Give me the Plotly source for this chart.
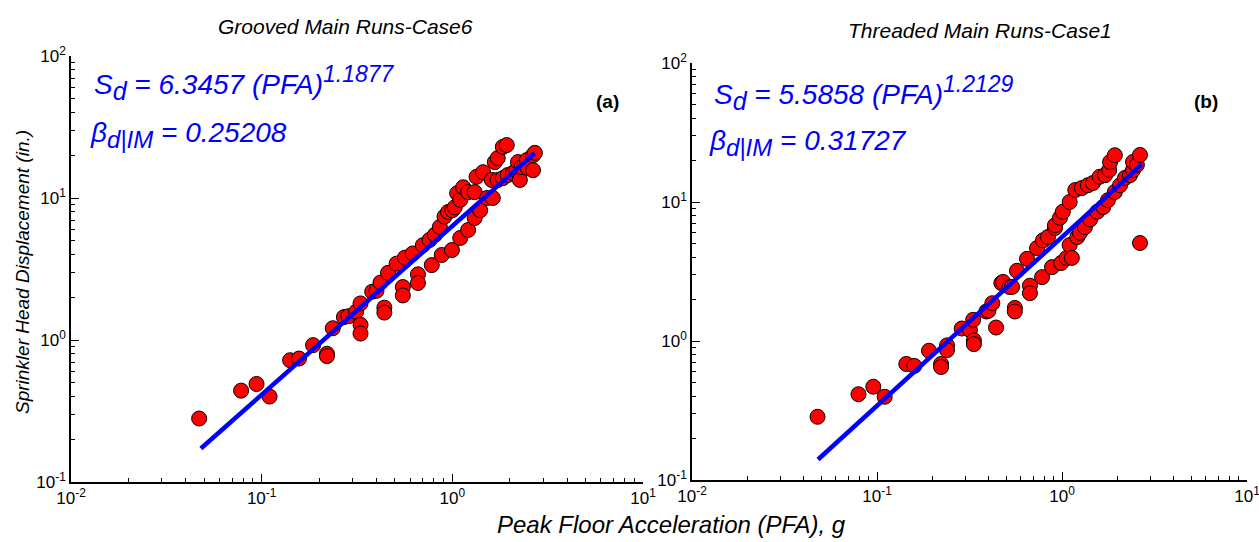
import numpy as np
import plotly.graph_objects as go

# Peak floor acceleration (g) and sprinkler head displacement (in.) — grooved main, case 6
pfa_a = [0.047, 0.078, 0.094, 0.110, 0.141, 0.157, 0.186, 0.22, 0.22, 0.236, 0.27, 0.285,
         0.313, 0.33, 0.33, 0.33, 0.38, 0.40, 0.42, 0.44, 0.44, 0.46, 0.51, 0.55, 0.55,
         0.564, 0.62, 0.66, 0.66, 0.70, 0.76, 0.78, 0.81, 0.86, 0.88, 0.91, 0.95, 1.0,
         0.995, 1.03, 1.06, 1.10, 1.10, 1.14, 1.21, 1.21, 1.31, 1.31, 1.34, 1.40, 1.45,
         1.52, 1.61, 1.63, 1.67, 1.73, 1.73, 1.84, 1.84, 1.93, 1.95, 2.08, 2.17, 2.21,
         2.26, 2.31, 2.46, 2.49, 2.65, 2.65, 2.71]
disp_a = [0.28, 0.44, 0.49, 0.40, 0.72, 0.74, 0.92, 0.80, 0.77, 1.21, 1.45, 1.47,
          1.58, 1.81, 1.28, 1.11, 2.19, 2.22, 2.54, 1.69, 1.56, 2.97, 3.45, 2.36, 2.06,
          3.8, 4.07, 2.90, 2.52, 4.65, 5.07, 3.37, 5.5, 6.25, 3.97, 7.4, 7.97, 8.2,
          4.30, 8.6, 10.8, 9.7, 5.23, 11.9, 11.0, 5.95, 11.0, 7.23, 14.1, 8.2, 15.2,
          10.0, 13.4, 10.0, 17.9, 19.1, 13.4, 22.9, 13.8, 23.6, 14.5, 15.0, 15.7, 17.9,
          13.4, 16.5, 18.5, 16.2, 15.7, 20.0, 20.8]

# Threaded main, case 1
pfa_b = [0.0477, 0.0794, 0.0955, 0.110, 0.144, 0.159, 0.191, 0.222, 0.222, 0.239, 0.239,
         0.287, 0.318, 0.331, 0.334, 0.334, 0.39, 0.40, 0.42, 0.44, 0.47, 0.48, 0.52,
         0.537, 0.556, 0.556, 0.571, 0.647, 0.671, 0.671, 0.733, 0.78, 0.789, 0.84,
         0.883, 0.916, 0.916, 0.975, 0.99, 1.01, 1.06, 1.10, 1.10, 1.13, 1.18, 1.21,
         1.25, 1.28, 1.33, 1.38, 1.42, 1.47, 1.55, 1.60, 1.67, 1.71, 1.77, 1.80, 1.82,
         1.93, 1.93, 2.06, 2.19, 2.33, 2.42, 2.42, 2.54, 2.64, 2.64]
disp_b = [0.285, 0.414, 0.469, 0.397, 0.684, 0.662, 0.851, 0.684, 0.65, 0.93, 0.86,
          1.23, 1.20, 1.42, 1.01, 0.95, 1.63, 1.65, 1.87, 1.25, 2.61, 2.66, 2.45,
          2.45, 1.73, 1.63, 3.2, 3.9, 2.5, 2.21, 4.66, 2.88, 5.3, 5.6,
          3.40, 6.5, 6.8, 7.7, 3.64, 8.5, 3.96, 10.0, 4.9, 3.96, 12.2, 5.6,
          6.0, 12.6, 6.6, 13.2, 7.5, 13.7, 8.5, 15.2, 9.2, 15.6, 10.3, 17.0, 19.4,
          11.8, 21.7, 13.2, 14.9, 15.6, 17.0, 19.4, 18.5, 21.8, 5.07]

# Power-law fits Sd = a * PFA^b, with dispersion beta
fit_a = (6.3457, 1.1877, 0.25208)
fit_b = (5.5858, 1.2129, 0.31727)
fit_range = (0.048, 2.7)

titles = ["Grooved Main Runs-Case6", "Threaded Main Runs-Case1"]
panel_tags = ["(a)", "(b)"]

x_decades = [-2, -1, 0, 1]
y_decades = [-1, 0, 1, 2]

W, H = 1259, 542
# plot areas in pixels: (left, right, top, bottom)
areas = [(71, 643, 56, 482), (692, 1247, 63, 480)]

fig = go.Figure()

font_main = "Liberation Sans, Arial, sans-serif"


def px(x):
    return x / W


def py(y):
    return 1 - y / H


for i, (xs, ys, fit) in enumerate([(pfa_a, disp_a, fit_a), (pfa_b, disp_b, fit_b)]):
    xa = "x" if i == 0 else "x2"
    ya = "y" if i == 0 else "y2"
    a, b, beta = fit
    xf = np.logspace(np.log10(fit_range[0]), np.log10(fit_range[1]), 50)
    yf = a * xf ** b
    fig.add_trace(go.Scatter(
        x=xs, y=ys, mode="markers", xaxis=xa, yaxis=ya, showlegend=False,
        marker=dict(size=15, color="#FF0000", line=dict(color="black", width=1)),
    ))
    fig.add_trace(go.Scatter(
        x=xf, y=yf, mode="lines", xaxis=xa, yaxis=ya, showlegend=False,
        line=dict(color="#0000FF", width=4.5),
    ))


def log_axis(decades):
    major = [10.0 ** d for d in decades]
    labels = [f"10<sup>{d}</sup>" for d in decades]
    minor = [m * 10.0 ** d for d in decades[:-1] for m in range(2, 10)]
    return dict(
        type="log", showline=True, linecolor="black", linewidth=1.5, mirror=False,
        ticks="inside", ticklen=8, tickwidth=1, tickcolor="black",
        tickmode="array", tickvals=major, ticktext=labels,
        showgrid=False, zeroline=False, automargin=False,
        ticklabeloverflow="allow",
        range=[decades[0], decades[-1]],
        tickfont=dict(family=font_main, size=17, color="black"),
        minor=dict(ticks="inside", ticklen=4, tickwidth=1, tickcolor="black",
                   tickmode="array", tickvals=minor, showgrid=False),
    )


for i, (l, r, t, bt) in enumerate(areas):
    suffix = "" if i == 0 else "2"
    fig.update_layout(**{
        f"xaxis{suffix}": dict(log_axis(x_decades), domain=[px(l), px(r)],
                               anchor=f"y{suffix}"),
        f"yaxis{suffix}": dict(log_axis(y_decades), domain=[py(bt), py(t)],
                               anchor=f"x{suffix}"),
    })

ann = []
title_pos = [(345, 27), (980, 30)]
for (x, y), t in zip(title_pos, titles):
    ann.append(dict(x=px(x), y=py(y), text=f"<i>{t}</i>", showarrow=False,
                    xref="paper", yref="paper",
                    font=dict(family=font_main, size=21, color="black"),
                    xanchor="center", yanchor="middle"))

ann.append(dict(x=px(671), y=py(524), text="<i>Peak Floor Acceleration (PFA), g</i>",
                showarrow=False, xref="paper", yref="paper",
                font=dict(family=font_main, size=24, color="black"),
                xanchor="center", yanchor="middle"))
ann.append(dict(x=px(22), y=py(272), text="<i>Sprinkler Head Displacement (in.)</i>",
                showarrow=False, xref="paper", yref="paper", textangle=-90,
                font=dict(family=font_main, size=19, color="black"),
                xanchor="center", yanchor="middle"))


def small(s, size):
    return f'<span style="font-size:{size}px">{s}</span>'


eq_pos = [((92, 83), (88, 135)), ((712, 93), (707, 143))]
for (p1, p2), fit in zip(eq_pos, [fit_a, fit_b]):
    a, b, beta = fit
    ann.append(dict(x=px(p1[0]), y=py(p1[1]),
                    text=(f"<i>S<sub>{small('d', 25)}</sub> = {a:.4f} (PFA)"
                          f"<sup>{small(f'{b:.4f}', 23)}</sup></i>"),
                    showarrow=False, xref="paper", yref="paper",
                    font=dict(family=font_main, size=28, color="#0000FF"),
                    xanchor="left", yanchor="middle"))
    ann.append(dict(x=px(p2[0]), y=py(p2[1]),
                    text=f"<i>β<sub>{small('d|IM', 24)}</sub> = {beta:.5f}</i>",
                    showarrow=False, xref="paper", yref="paper",
                    font=dict(family=font_main, size=28, color="#0000FF"),
                    xanchor="left", yanchor="middle"))

for (x, y), tag in zip([(607, 101), (1206, 101)], panel_tags):
    ann.append(dict(x=px(x), y=py(y), text=f"<b>{tag}</b>", showarrow=False,
                    xref="paper", yref="paper",
                    font=dict(family=font_main, size=19, color="black"),
                    xanchor="center", yanchor="middle"))

fig.update_layout(
    width=W, height=H, autosize=False,
    margin=dict(l=0, r=0, t=0, b=0, autoexpand=False),
    paper_bgcolor="white", plot_bgcolor="white",
    annotations=ann,
)

fig.write_html("out.html")
